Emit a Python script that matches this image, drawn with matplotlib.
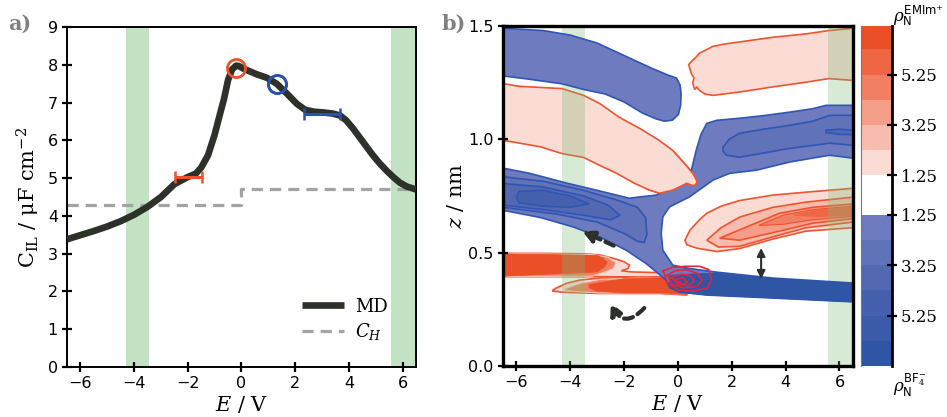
import matplotlib
matplotlib.use('Agg')
import matplotlib.pyplot as plt
from matplotlib.patches import FancyArrowPatch, Rectangle

# ---------------- data: panel a ----------------
E_md = [-6.5, -6.0, -5.5, -5.0, -4.5, -4.0, -3.5, -3.0, -2.5, -2.0, -1.7, -1.5, -1.25, -1.0,
        -0.8, -0.65, -0.5, -0.35, -0.2, -0.1, 0.07, 0.57, 0.94, 1.31, 1.69, 2.06, 2.37, 2.7,
        3.05, 3.4, 3.67, 3.9, 4.16, 4.4, 4.66, 4.9, 5.16, 5.4, 5.65, 5.9, 6.15, 6.5]
C_md = [3.38, 3.49, 3.6, 3.72, 3.86, 4.03, 4.24, 4.5, 4.84, 5.03, 5.12, 5.28, 5.6, 6.15,
        6.7, 7.1, 7.6, 7.88, 7.98, 7.97, 7.9, 7.75, 7.66, 7.5, 7.24, 6.97, 6.81, 6.76,
        6.74, 6.71, 6.66, 6.53, 6.31, 6.08, 5.83, 5.6, 5.38, 5.2, 5.03, 4.88, 4.78, 4.7]
E_ch = [-6.5, 0.0, 0.0, 6.5]
C_ch = [4.28, 4.28, 4.7, 4.7]
err_red = dict(E=-1.97, C=5.02, dE=0.5)
err_blue = dict(E=3.0, C=6.71, dE=0.66)
circ_red = (-0.22, 7.92)
circ_blue = (1.31, 7.5)
green_bands = [(-4.3, -3.45), (5.57, 6.5)]

# ---------------- data: panel b (contour regions, E [V] / z [nm]) ----------------
# blue (BF4-) regions
btl_E = [-6.5, -5.0, -4.0, -3.0, -2.0, -1.0, -0.4, -0.05, 0.08, 0.12, 0.1, 0.02, -0.2, -0.5, -0.8, -1.3, -2.0, -2.7, -3.5, -4.3, -5.5, -6.5]
btl_z = [1.49, 1.48, 1.46, 1.425, 1.37, 1.315, 1.285, 1.27, 1.24, 1.2, 1.15, 1.11, 1.085, 1.08, 1.09, 1.115, 1.165, 1.2, 1.22, 1.245, 1.265, 1.28]

bY_E = [-6.5, -5.5, -4.1, -3.0, -1.8, -1.42, -0.8, -0.43, 0.06, 0.5, 0.68, 0.85, 1.07, 1.44, 2.29, 3.2, 4.15, 5.0, 5.5, 6.5,
        6.5, 5.64, 4.15, 2.92, 1.92, 1.3, 0.43, -0.31, -0.56, -0.62, -0.56, -0.19, 0.44, 1.44, 3.52, 6.5,
        6.5, 3.5, 1.07, 0.07, -0.3, -0.44, -0.81, -1.18, -1.92, -2.91, -3.9, -5.1, -6.5]
bY_z = [0.873, 0.85, 0.806, 0.775, 0.74, 0.746, 0.754, 0.776, 0.834, 0.864, 0.952, 1.02, 1.07, 1.084, 1.093, 1.105, 1.12, 1.135, 1.15, 1.15,
        0.917, 0.93, 0.90, 0.864, 0.85, 0.82, 0.746, 0.702, 0.658, 0.585, 0.511, 0.445, 0.43, 0.414, 0.388, 0.366,
        0.283, 0.30, 0.313, 0.326, 0.345, 0.379, 0.416, 0.452, 0.511, 0.57, 0.614, 0.655, 0.687]

bll2_E = [-6.5, -5.0, -3.5, -2.2, -1.5, -1.2, -1.15, -1.25, -1.5, -2.0, -3.0, -4.5, -6.5]
bll2_z = [0.835, 0.815, 0.775, 0.73, 0.70, 0.655, 0.58, 0.545, 0.55, 0.585, 0.635, 0.67, 0.70]
bll3_E = [-6.5, -5.0, -3.5, -2.6, -2.15, -2.5, -3.5, -5.0, -6.5]
bll3_z = [0.805, 0.79, 0.75, 0.71, 0.665, 0.645, 0.665, 0.69, 0.71]
bll4_E = [-5.9, -5.0, -4.0, -3.3, -4.0, -5.0, -5.9, -6.0]
bll4_z = [0.77, 0.775, 0.75, 0.715, 0.70, 0.705, 0.72, 0.745]

brb2_E = [1.67, 1.9, 2.29, 3.2, 4.15, 5.0, 5.64, 6.5, 6.5, 5.64, 4.15, 3.2, 2.29, 1.8, 1.67]
brb2_z = [0.965, 1.0, 1.027, 1.045, 1.062, 1.08, 1.106, 1.106, 0.974, 0.983, 0.96, 0.94, 0.921, 0.93, 0.95]
brb3_E = [5.5, 6.0, 6.5, 6.5, 6.0, 5.5]
brb3_z = [1.04, 1.045, 1.04, 1.02, 1.022, 1.03]

bbot_E = [-0.3, 0.3, 1.44, 3.52, 6.5, 6.5, 3.5, 1.07, 0.0, -0.3]
bbot_z = [0.40, 0.405, 0.41, 0.386, 0.364, 0.283, 0.30, 0.313, 0.326, 0.345]

# red (EMIm+) regions
ptr_E = [0.45, 0.4, 0.55, 0.65, 0.8, 1.3, 1.7, 2.3, 2.9, 3.5, 4.8, 5.6, 6.5, 6.5, 5.6, 4.8, 3.5, 2.3, 1.7, 1.3, 1.0, 0.8, 0.7, 0.62, 0.55, 0.6, 0.5]
ptr_z = [1.31, 1.33, 1.35, 1.36, 1.38, 1.41, 1.42, 1.43, 1.44, 1.45, 1.466, 1.48, 1.49, 1.26, 1.268, 1.253, 1.231, 1.209, 1.2, 1.194, 1.2, 1.216, 1.23, 1.22, 1.25, 1.27, 1.29]

pml_E = [-6.5, -5.9, -4.3, -3.5, -2.9, -2.2, -1.4, -0.7, -0.2, 0.3, 0.55, 0.65, 0.72, 0.6, 0.45, 0.33, -0.19, -0.68, -1.05, -1.6, -2.27, -2.9, -3.5, -4.3, -5.1, -6.5]
pml_z = [1.246, 1.234, 1.224, 1.194, 1.158, 1.099, 1.047, 0.996, 0.952, 0.886, 0.85, 0.83, 0.81, 0.795, 0.80, 0.806, 0.776, 0.762, 0.776, 0.805, 0.85, 0.885, 0.92, 0.937, 0.967, 0.996]

rlr1_E = [0.26, 0.45, 0.8, 1.07, 1.6, 2.29, 3.52, 4.76, 6.5, 6.5, 4.76, 3.52, 2.29, 1.44, 0.7, 0.33]
rlr1_z = [0.555, 0.60, 0.645, 0.674, 0.705, 0.73, 0.754, 0.767, 0.784, 0.61, 0.595, 0.56, 0.518, 0.505, 0.52, 0.535]
rlr2_E = [1.07, 1.6, 2.29, 3.52, 4.76, 6.5, 6.5, 4.76, 3.52, 2.29, 1.5]
rlr2_z = [0.555, 0.61, 0.657, 0.70, 0.723, 0.745, 0.635, 0.61, 0.57, 0.528, 0.525]
rlr3_E = [1.55, 2.54, 3.77, 5.0, 6.5, 6.5, 5.0, 3.77, 2.29]
rlr3_z = [0.564, 0.613, 0.674, 0.70, 0.715, 0.65, 0.63, 0.595, 0.555]
rlr4_E = [3.0, 3.9, 5.0, 6.5, 6.5, 5.0, 3.9]
rlr4_z = [0.62, 0.665, 0.69, 0.705, 0.66, 0.645, 0.625]
rlr5_E = [4.3, 5.2, 6.5, 6.5, 5.2]
rlr5_z = [0.665, 0.688, 0.70, 0.665, 0.66]

rul1_E = [-6.5, -5.0, -3.5, -2.9, -2.4, -2.0, -1.8, -1.85, -2.1, -1.7, -0.7, 0.3, 1.0, 1.0, 0.3, -0.7, -1.7, -2.6, -3.5, -5.0, -6.5]
rul1_z = [0.497, 0.497, 0.495, 0.49, 0.475, 0.46, 0.445, 0.43, 0.42, 0.415, 0.412, 0.415, 0.42, 0.40, 0.392, 0.392, 0.393, 0.394, 0.394, 0.394, 0.394]
rul3_E = [-6.5, -3.2, -2.6, -2.3, -2.4, -2.7, -3.2, -6.5]
rul3_z = [0.496, 0.492, 0.48, 0.455, 0.43, 0.415, 0.396, 0.395]
rul6_E = [-6.5, -3.0, -2.75, -2.62, -2.75, -3.0, -6.5]
rul6_z = [0.495, 0.488, 0.473, 0.455, 0.435, 0.415, 0.396]

rll1_E = [-4.64, -4.5, -4.13, -3.65, -2.9, -1.5, -0.68, 0.33, 0.45, 0.33, -0.68, -2.9, -4.2, -4.64]
rll1_z = [0.335, 0.345, 0.365, 0.379, 0.388, 0.39, 0.392, 0.39, 0.35, 0.313, 0.32, 0.32, 0.325, 0.33]
rll3_E = [-4.2, -3.6, -2.9, -1.5, -0.68, 0.33, 0.33, -0.68, -2.9, -3.8, -4.2]
rll3_z = [0.34, 0.365, 0.382, 0.388, 0.39, 0.388, 0.315, 0.322, 0.322, 0.328, 0.335]
rll6_E = [-3.3, -2.0, -0.68, 0.33, 0.33, -0.68, -2.0, -3.0, -3.3]
rll6_z = [0.36, 0.385, 0.39, 0.388, 0.315, 0.322, 0.322, 0.33, 0.345]

loops = [
    ([-0.55, -0.2, 0.3, 0.8, 1.15, 1.25, 1.1, 0.6, 0.0, -0.4, -0.55],
     [0.42, 0.435, 0.44, 0.44, 0.425, 0.38, 0.345, 0.33, 0.335, 0.37, 0.42]),
    ([-0.4, -0.1, 0.3, 0.7, 0.9, 0.7, 0.2, -0.2, -0.4],
     [0.40, 0.42, 0.425, 0.41, 0.38, 0.35, 0.345, 0.36, 0.40]),
    ([-0.25, 0.1, 0.45, 0.6, 0.4, 0.0, -0.25],
     [0.39, 0.405, 0.40, 0.375, 0.355, 0.36, 0.39]),
    ([-0.1, 0.2, 0.35, 0.2, -0.1],
     [0.38, 0.39, 0.37, 0.36, 0.38]),
]

cb_ticklabels = ['5.25', '3.25', '1.25', '1.25', '3.25', '5.25']

# ---------------- styles ----------------
BLUE = ['#6e7cbf', '#6072b8', '#5269b2', '#4561ad', '#3b5ba8', '#2f55a5']
RED = ['#fadcd5', '#f7bcae', '#f49d88', '#f17f64', '#ee6643', '#eb4f27']
BEDGE = '#2f55b5'
REDGE = '#f0532d'
LOOP = '#e3243d'
SERIF = 'DejaVu Serif'
plt.rcParams['mathtext.fontset'] = 'dejavuserif'

fig = plt.figure(figsize=(9.47, 4.17), dpi=100)
axa = fig.add_axes([0.0707, 0.12, 0.3686, 0.815])
axb = fig.add_axes([0.531, 0.1223, 0.3697, 0.8153])
axc = fig.add_axes([0.909, 0.1223, 0.033, 0.8153])

# ---------------- panel a ----------------
for lo, hi in green_bands:
    axa.axvspan(lo, hi, color='#c3e2c3', lw=0, zorder=0)
axa.plot(E_md, C_md, color='#2c3129', lw=4.8, solid_capstyle='butt', zorder=3, label='MD')
axa.plot(E_ch, C_ch, color='#a3a3a3', lw=2.3, ls=(0, (3.5, 2.2)), zorder=2, label=r'$C_H$')
axa.errorbar([err_red['E']], [err_red['C']], xerr=[err_red['dE']], color='#f0502a', lw=2.2,
             capsize=4, capthick=1.8, zorder=4)
axa.errorbar([err_blue['E']], [err_blue['C']], xerr=[err_blue['dE']], color='#2a50b0', lw=2.2,
             capsize=4, capthick=1.8, zorder=4)
axa.plot([circ_red[0]], [circ_red[1]], 'o', mfc='none', mec='#f0502a', mew=2, ms=13, zorder=5)
axa.plot([circ_blue[0]], [circ_blue[1]], 'o', mfc='none', mec='#2a50b0', mew=2.2, ms=13, zorder=5)
axa.set_xlim(-6.5, 6.5)
axa.set_ylim(0, 9)
axa.set_xticks([-6, -4, -2, 0, 2, 4, 6])
axa.set_yticks(range(0, 10))
axa.tick_params(direction='inout', length=7, width=1.6, labelsize=11.5, pad=3)
for s in axa.spines.values():
    s.set_linewidth(1.4)
axa.set_ylabel('C$_{\\rm IL}$ / μF cm$^{-2}$', family=SERIF, fontsize=15, labelpad=4)
axa.set_xlabel(r'$E$ / V', family=SERIF, fontsize=15, labelpad=2)
leg = axa.legend(loc='lower right', frameon=False, prop={'family': SERIF, 'size': 13},
                 handlelength=2.3, handletextpad=0.6, borderaxespad=0.6, labelspacing=0.3,
                 bbox_to_anchor=(0.97, 0.02))

# ---------------- panel b ----------------
def poly(ax, E, z, fc, ec, lw=1.2, zo=1):
    return ax.fill(E, z, facecolor=fc, edgecolor=ec, lw=lw, zorder=zo)[0]

# red fills (under translucent green)
poly(axb, ptr_E, ptr_z, RED[0], REDGE, zo=1)
poly(axb, pml_E, pml_z, RED[0], REDGE, zo=1)
poly(axb, rlr1_E, rlr1_z, RED[0], REDGE, zo=1)
poly(axb, rlr2_E, rlr2_z, RED[1], REDGE, zo=1.1)
poly(axb, rlr3_E, rlr3_z, RED[2], REDGE, zo=1.2)
poly(axb, rlr4_E, rlr4_z, RED[3], REDGE, lw=0.8, zo=1.3)
poly(axb, rlr5_E, rlr5_z, RED[4], RED[4], lw=0.8, zo=1.4)
poly(axb, rul1_E, rul1_z, RED[0], REDGE, zo=1)
poly(axb, rul3_E, rul3_z, RED[3], '#f8c7bb', lw=0.8, zo=1.1)
poly(axb, rul6_E, rul6_z, RED[5], RED[5], lw=0.5, zo=1.2)
poly(axb, rll1_E, rll1_z, RED[0], REDGE, zo=1)
poly(axb, rll3_E, rll3_z, RED[3], '#f8c7bb', lw=0.8, zo=1.1)
poly(axb, rll6_E, rll6_z, RED[5], RED[5], lw=0.5, zo=1.2)

for lo, hi in green_bands:
    axb.axvspan(lo, hi, color='#79bb79', alpha=0.3, lw=0, zorder=2)

# blue fills (opaque, above green)
poly(axb, btl_E, btl_z, BLUE[0], BEDGE, zo=3)
poly(axb, bY_E, bY_z, BLUE[0], BEDGE, zo=3)
poly(axb, bll2_E, bll2_z, BLUE[1], BEDGE, zo=3.1)
poly(axb, bll3_E, bll3_z, BLUE[2], BEDGE, zo=3.2)
poly(axb, bll4_E, bll4_z, BLUE[3], BEDGE, zo=3.3)
poly(axb, brb2_E, brb2_z, BLUE[1], BEDGE, zo=3.1)
poly(axb, brb3_E, brb3_z, BLUE[2], BEDGE, zo=3.2)
poly(axb, bbot_E, bbot_z, BLUE[5], BLUE[5], lw=0.5, zo=3.1)

# pink tip lying over the blue neck (only the part near E = 0)
tip = poly(axb, pml_E, pml_z, RED[0], REDGE, zo=3.5)
clip = Rectangle((-1.2, 0.7), 2.5, 0.25, transform=axb.transData)
tip.set_clip_path(clip)

for Ls, Lz in loops:
    axb.plot(Ls, Lz, color=LOOP, lw=1.2, zorder=5)

# arrows
axb.add_patch(FancyArrowPatch((-2.29, 0.526), (-3.65, 0.60), arrowstyle='-|>', mutation_scale=17,
                              color='#2b302b', lw=3, ls=(0, (2.2, 1.3)), zorder=6))
axb.add_patch(FancyArrowPatch((-1.18, 0.265), (-2.54, 0.29), arrowstyle='-|>', mutation_scale=17,
                              color='#2b302b', lw=3, ls=(0, (2.2, 1.3)),
                              connectionstyle='arc3,rad=-0.8', zorder=6))
axb.add_patch(FancyArrowPatch((3.09, 0.372), (3.09, 0.533), arrowstyle='<|-|>', mutation_scale=12,
                              color='#2b302b', lw=1.5, zorder=6))

axb.set_xlim(-6.5, 6.5)
axb.set_ylim(0, 1.5)
axb.set_xticks([-6, -4, -2, 0, 2, 4, 6])
axb.set_yticks([0.0, 0.5, 1.0, 1.5])
axb.set_yticklabels(['0.0', '0.5', '1.0', '1.5'])
axb.tick_params(direction='inout', length=7, width=1.6, labelsize=11.5, pad=3)
for s in axb.spines.values():
    s.set_linewidth(2.4)
    s.set_zorder(10)
axb.set_ylabel(r'$z$ / nm', family=SERIF, fontsize=15, labelpad=2)
axb.set_xlabel(r'$E$ / V', family=SERIF, fontsize=15, labelpad=2)

# ---------------- colorbar ----------------
gap_lo, gap_hi = 6.0, 7.57
for i, c in enumerate(BLUE[::-1]):
    axc.axhspan(i, i + 1, color=c, lw=0)
for i, c in enumerate(RED):
    axc.axhspan(gap_hi + i, gap_hi + i + 1, color=c, lw=0)
axc.set_ylim(0, 13.5)
axc.set_xlim(0, 1)
axc.set_xticks([])
axc.yaxis.tick_right()
axc.set_yticks([gap_hi + 4, gap_hi + 2, gap_hi, gap_lo, gap_lo - 2, gap_lo - 4])
axc.set_yticklabels(cb_ticklabels, family=SERIF, fontsize=12)
axc.tick_params(axis='y', direction='inout', length=7, width=1.6, pad=3)
axc.spines['top'].set_visible(False)
axc.spines['bottom'].set_visible(False)
axc.spines['left'].set_linewidth(0.8)
axc.spines['left'].set_color('#777777')
axc.spines['right'].set_linewidth(2)
fig.text(0.943, 0.962, r'$\rho_{\mathsf{N}}^{\mathsf{EMIm}^{+}}$', fontsize=12, ha='left', va='center')
fig.text(0.943, 0.075, r'$\rho_{\mathsf{N}}^{\mathsf{BF}_4^{-}}$', fontsize=12, ha='left', va='center')

# panel labels
fig.text(0.021, 0.942, 'a)', family=SERIF, fontsize=15, fontweight='bold', color='#808080',
         ha='center', va='center')
fig.text(0.479, 0.942, 'b)', family=SERIF, fontsize=15, fontweight='bold', color='#808080',
         ha='center', va='center')

fig.savefig('out.png', dpi=100)
